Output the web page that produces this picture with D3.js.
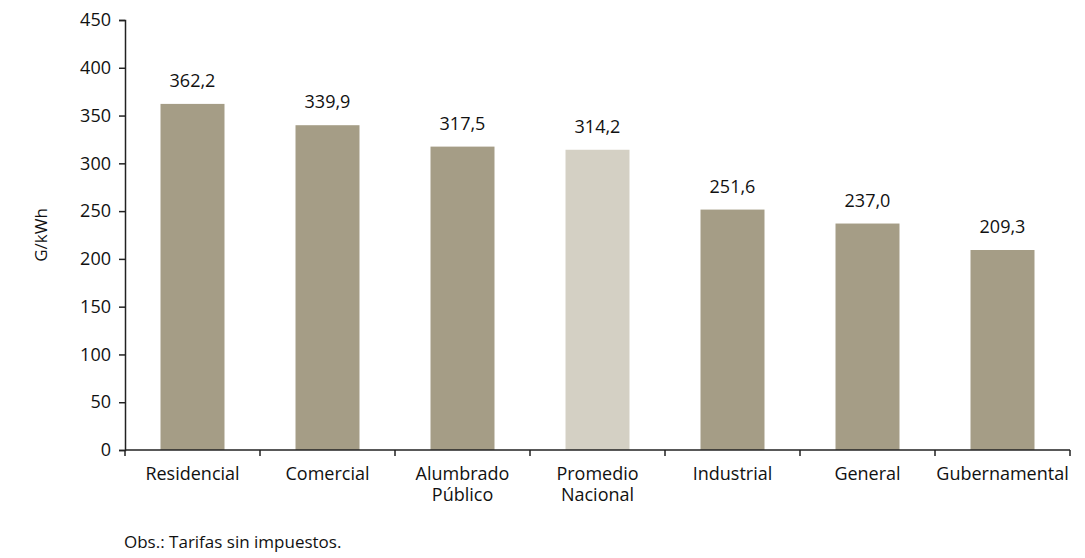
<!DOCTYPE html>
<html>
<head>
<meta charset="utf-8">
<script src="https://cdn.jsdelivr.net/npm/d3@7"></script>
<style>
  body { margin: 0; background: #fff; }
  text { font-family: "Open Sans", sans-serif; fill: #111; }
</style>
</head>
<body>
<div id="chart"></div>
<script>
// Data
var categories = ["Residencial", "Comercial", "Alumbrado|Público", "Promedio|Nacional", "Industrial", "General", "Gubernamental"];
var values = [362.2, 339.9, 317.5, 314.2, 251.6, 237.0, 209.3];
var highlight = ["Promedio|Nacional"];
var yTicks = [0, 50, 100, 150, 200, 250, 300, 350, 400, 450];

var width = 1085, height = 558;
var mLeft = 125, mRight = 1070, mTop = 20, mBottom = 450;

var svg = d3.select("#chart").append("svg")
    .attr("width", width)
    .attr("height", height);

var x = d3.scaleBand()
    .domain(categories)
    .range([mLeft, mRight])
    .paddingInner(0.526)
    .paddingOuter(0.263);

var y = d3.scaleLinear()
    .domain([0, 450])
    .range([mBottom, mTop]);

// Bars
svg.selectAll(".bar")
    .data(categories)
    .enter().append("rect")
    .attr("class", "bar")
    .attr("x", function (d) { return x(d); })
    .attr("y", function (d, i) { return y(values[i]); })
    .attr("width", x.bandwidth())
    .attr("height", function (d, i) { return mBottom - y(values[i]); })
    .attr("fill", function (d) { return highlight.indexOf(d) >= 0 ? "#d4d0c4" : "#a59d86"; });

// Value labels
svg.selectAll(".val")
    .data(categories)
    .enter().append("text")
    .attr("class", "val")
    .attr("x", function (d) { return x(d) + x.bandwidth() / 2; })
    .attr("y", function (d, i) { return y(values[i]) - 17; })
    .attr("text-anchor", "middle")
    .style("font-size", "18px")
    .text(function (d, i) { return values[i].toFixed(1).replace(".", ","); });

// Y axis
var yAxis = svg.append("g")
    .attr("transform", "translate(" + mLeft + ",0)")
    .call(d3.axisLeft(y).tickValues(yTicks).tickSize(6).tickPadding(8));
yAxis.selectAll("text").style("font-size", "18px");
yAxis.select(".domain").attr("stroke", "#222").attr("stroke-width", 1.5);
yAxis.selectAll(".tick line").attr("stroke", "#222").attr("stroke-width", 1.5);

// X axis: ticks at band boundaries
var xAxis = svg.append("g").attr("transform", "translate(0," + mBottom + ")");
xAxis.append("line")
    .attr("x1", mLeft).attr("x2", mRight)
    .attr("stroke", "#222").attr("stroke-width", 1.5);
var step = x.step();
xAxis.selectAll(".xt")
    .data(d3.range(categories.length + 1))
    .enter().append("line")
    .attr("x1", function (i) { return mLeft + i * step; })
    .attr("x2", function (i) { return mLeft + i * step; })
    .attr("y1", 0).attr("y2", 6)
    .attr("stroke", "#222").attr("stroke-width", 1.5);

var labels = xAxis.selectAll(".xl")
    .data(categories)
    .enter().append("text")
    .attr("class", "xl")
    .attr("text-anchor", "middle")
    .style("font-size", "18px")
    .attr("transform", function (d) { return "translate(" + (x(d) + x.bandwidth() / 2) + ",30)"; });
labels.each(function (d) {
    var t = d3.select(this);
    d.split("|").forEach(function (line, j) {
        t.append("tspan").attr("x", 0).attr("dy", j === 0 ? 0 : 21).text(line);
    });
});

// Y label
svg.append("text")
    .attr("transform", "translate(47," + ((mTop + mBottom) / 2) + ") rotate(-90)")
    .attr("text-anchor", "middle")
    .style("font-size", "17px")
    .text("G/kWh");

// Note
svg.append("text")
    .attr("x", 124)
    .attr("y", 548)
    .style("font-size", "17px")
    .text("Obs.: Tarifas sin impuestos.");
</script>
</body>
</html>
